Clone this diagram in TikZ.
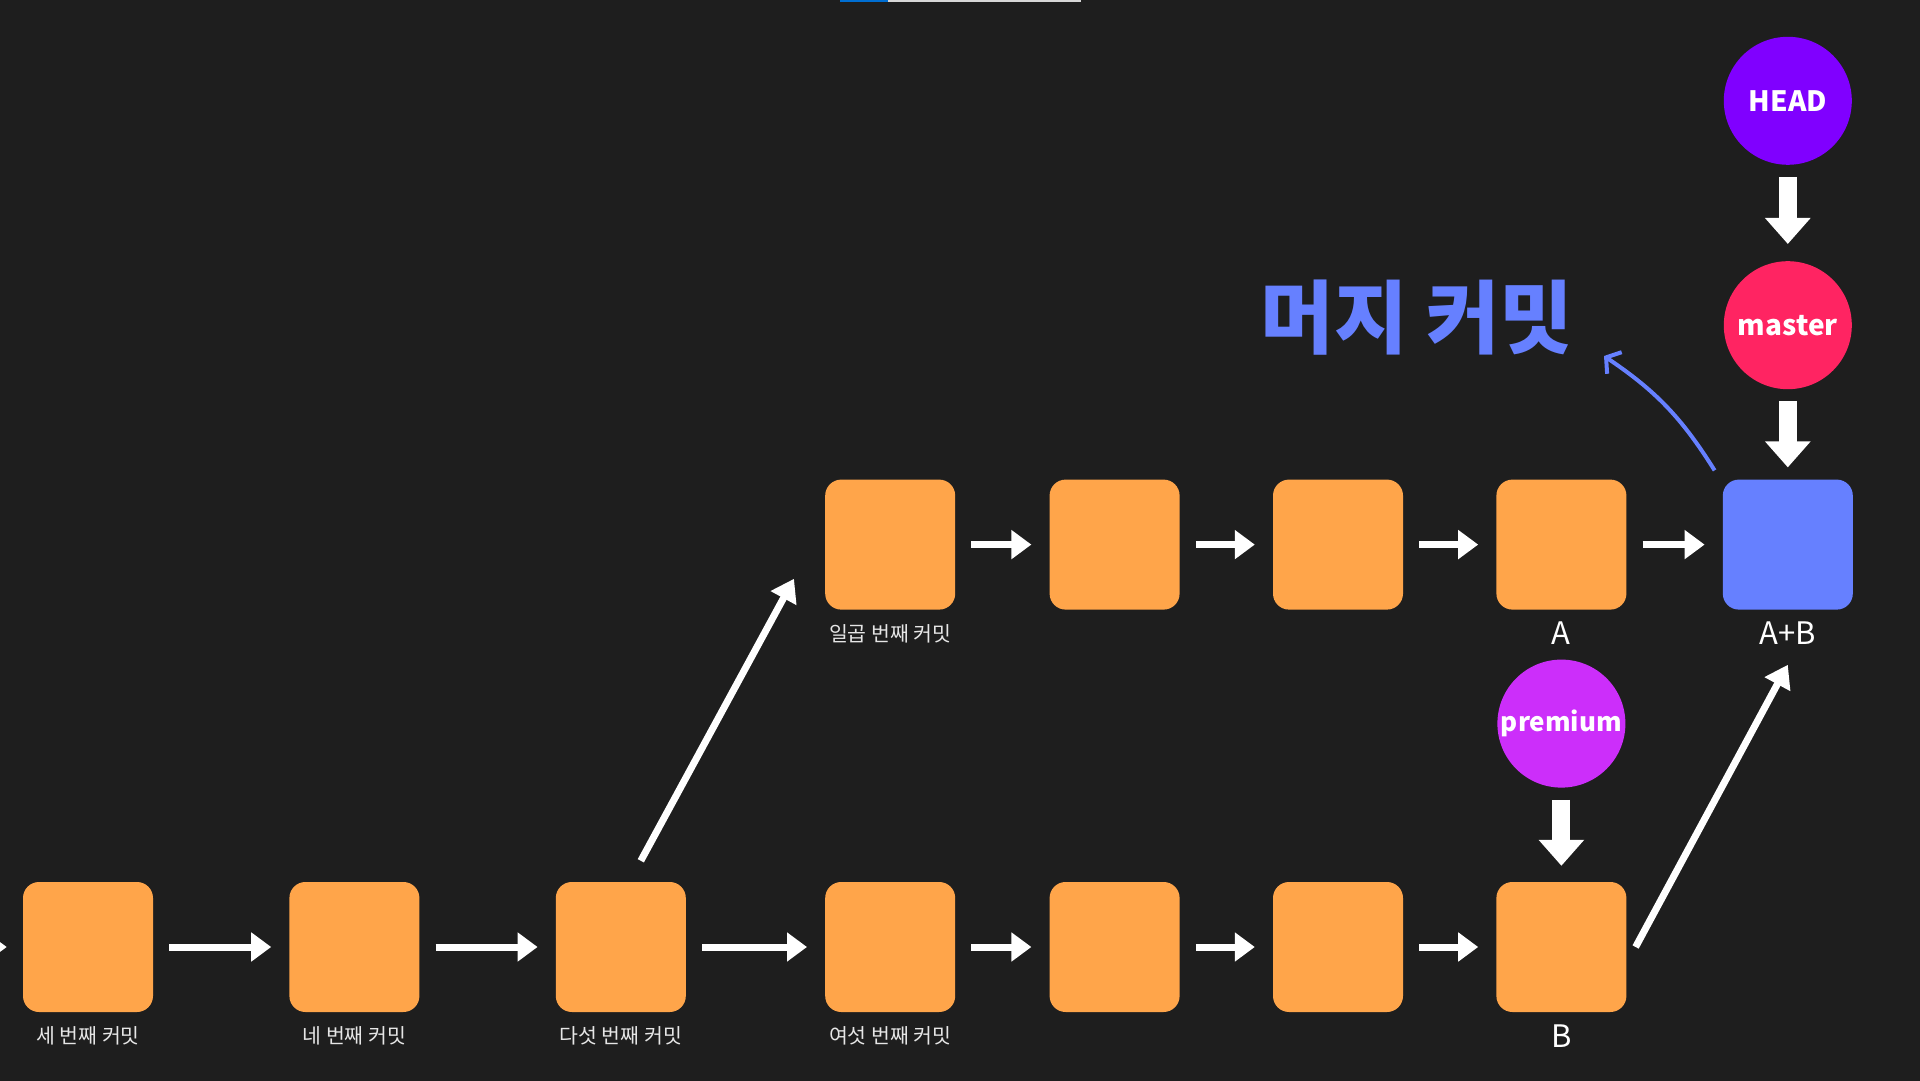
\documentclass[tikz,border=0pt]{standalone}
\usepackage{fontspec}
\setmainfont{Noto Sans CJK KR}
\usetikzlibrary{arrows.meta, positioning, calc}
\definecolor{bgdark}{RGB}{30,30,30}
\definecolor{cmtorange}{RGB}{255,165,74}
\definecolor{mergeblue}{RGB}{102,128,255}
\definecolor{headpurple}{RGB}{128,0,255}
\definecolor{masterred}{RGB}{255,36,98}
\definecolor{premiumpink}{RGB}{204,46,250}
\definecolor{labelgray}{RGB}{230,230,230}
\definecolor{barblue}{RGB}{0,110,210}
\definecolor{bargray}{RGB}{215,215,215}

\begin{document}
\begin{tikzpicture}[x=1pt, y=1pt,
            commit/.style={fill=cmtorange, rounded corners=16pt, minimum size=130pt, inner sep=0pt},
            mergebox/.style={commit, fill=mergeblue},
            refcirc/.style={circle, minimum size=128pt, inner sep=0pt, text=white, font=\fontsize{28pt}{34pt}\selectfont\bfseries},
            cmtlabel/.style={text=labelgray, font=\fontsize{20.5pt}{24pt}\selectfont},
            letter/.style={text=white, font=\fontsize{31pt}{36pt}\selectfont},
            harrow/.style={-{Triangle[width=28pt,length=20pt]}, line width=7pt, white, shorten <=16pt, shorten >=18pt},
            varrow/.style={-{Triangle[width=44pt,length=26pt]}, line width=18pt, white, shorten <=12pt},
            darrow/.style={-{Triangle[width=28pt,length=22pt]}, line width=7pt, white}
        ]
            \useasboundingbox (0,0) rectangle (1920,1080);
            \clip (-3,-3) rectangle (1923,1083);
            \fill[bgdark] (-3,-3) rectangle (1923,1083);
            \fill[barblue] (840,1078) rectangle (888,1083);
            \fill[bargray] (888,1078) rectangle (1081,1083);

            \node[commit] (third) at (88,133) {};
            \node[commit, right=136pt of third] (fourth) {};
            \node[commit, right=136pt of fourth] (fifth) {};
            \node[commit, right=139pt of fifth] (sixth) {};
            \node[commit, right=94pt of sixth] (fb1) {};
            \node[commit, right=93pt of fb1] (fb2) {};
            \node[commit, right=93pt of fb2] (fb) {};

            \node[commit, above=272pt of sixth] (seventh) {};
            \node[commit, right=94pt of seventh] (fa1) {};
            \node[commit, right=93pt of fa1] (fa2) {};
            \node[commit, right=93pt of fa2] (fa) {};
            \node[mergebox, right=96pt of fa] (merge) {};

            \node[refcirc, fill=masterred, above=90pt of merge] (master) {master};
            \node[refcirc, fill=headpurple, above=96pt of master] (head) {HEAD};
            \node[refcirc, fill=premiumpink, above=94pt of fb, font=\fontsize{26pt}{30pt}\selectfont\bfseries] (premium) {premium};

            \node[cmtlabel] (lthird) at ([yshift=-24pt]third.south) {세 번째 커밋};
            \node[cmtlabel] (lfourth) at ([yshift=-24pt]fourth.south) {네 번째 커밋};
            \node[cmtlabel] (lfifth) at ([yshift=-24pt]fifth.south) {다섯 번째 커밋};
            \node[cmtlabel] (lsixth) at ([yshift=-24pt]sixth.south) {여섯 번째 커밋};
            \node[cmtlabel] (lseventh) at ([yshift=-24pt]seventh.south) {일곱 번째 커밋};
            \node[letter] (la) at ([yshift=-23pt]fa.south) {A};
            \node[letter] (lb) at ([yshift=-24pt]fb.south) {B};
            \node[letter] (lab) at ([yshift=-23pt]merge.south) {A+B};

            \node[text=mergeblue, font=\fontsize{80pt}{90pt}\selectfont\bfseries] (title) at (1417,762) {머지 커밋};
            \coordinate (note) at (1604,724);
            \coordinate (prev) at (-80,133);

            \draw[harrow, shorten >=16pt] (prev) -- (third);
            \draw[harrow] (third) -- (fourth);
            \draw[harrow] (fourth) -- (fifth);
            \draw[harrow] (fifth) -- (sixth);
            \draw[harrow] (sixth) -- (fb1);
            \draw[harrow] (fb1) -- (fb2);
            \draw[harrow] (fb2) -- (fb);
            \draw[harrow] (seventh) -- (fa1);
            \draw[harrow] (fa1) -- (fa2);
            \draw[harrow] (fa2) -- (fa);
            \draw[harrow] (fa) -- (merge);

            \draw[darrow] ([xshift=20pt,yshift=21pt]fifth.north) -- ([xshift=-31pt,yshift=31pt]seventh.south west);
            \draw[darrow] ([xshift=9pt]fb.east) -- ([yshift=-55pt]merge.south);

            \draw[varrow, shorten >=17pt] (head) -- (master);
            \draw[varrow, shorten >=12pt] (master) -- (merge);
            \draw[varrow, shorten >=16pt] (premium) -- (fb);

            \draw[mergeblue, line width=4pt, -{Straight Barb[length=10pt,width=26pt]}] ([xshift=-8pt,yshift=9pt]merge.north west) to[bend right=12] (note);
        \end{tikzpicture}
\end{document}
